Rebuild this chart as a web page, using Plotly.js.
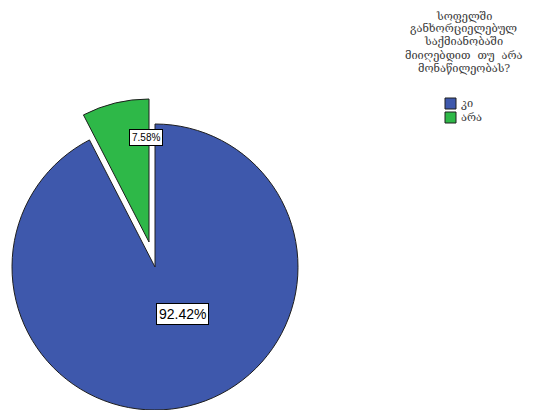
<!DOCTYPE html>
<html><head><meta charset="utf-8">
<script src="https://cdn.plot.ly/plotly-3.0.1.min.js"></script>
<style>html,body{margin:0;padding:0;background:#fff}</style>
</head><body><div id="chart" style="width:536px;height:410px"></div>
<script>
const categories = ["კი", "არა"];
const values = [92.42, 7.58];
const colors = ["#3E58AC", "#2EB848"];
const legendTitleLines = ["სოფელში", "განხორციელებულ", "საქმიანობაში", "მიიღებდით  თუ  არა", "მონაწილეობას?"];

const W = 536, H = 410;
const R = 143;
const px = (x) => x / W;
const py = (y) => 1 - y / H;
const dom = (cx, cy) => ({x: [px(cx - R), px(cx + R)], y: [Math.max(0, py(cy + R)), py(cy - R)]});

const base = {
  type: 'pie', labels: categories, values: values, sort: false,
  direction: 'clockwise', rotation: 0, textinfo: 'none', hoverinfo: 'label+percent',
  showlegend: false
};
const t1 = Object.assign({}, base, {
  domain: dom(155, 267),
  marker: {colors: [colors[0], 'rgba(0,0,0,0)'], line: {color: '#1e1e1e', width: [1, 0]}}
});
const t2 = Object.assign({}, base, {
  domain: dom(149, 242),
  marker: {colors: ['rgba(0,0,0,0)', colors[1]], line: {color: '#1e1e1e', width: [0, 1]}}
});

const total = values.reduce((a, b) => a + b, 0);
const pct = values.map(v => (v / total * 100).toFixed(2) + '%');

const titleFont = {family: 'DejaVu Serif, DejaVu Sans', size: 11, color: '#3a3a3a'};
const annotations = [
  {x: px(156), y: py(325), xref: 'paper', yref: 'paper', text: pct[0], showarrow: false,
   font: {family: 'Arial, Liberation Sans', size: 14, color: '#000'}, bgcolor: '#fff',
   bordercolor: '#000', borderwidth: 1, borderpad: 2},
  {x: px(129), y: py(137), xref: 'paper', yref: 'paper', text: pct[1], showarrow: false,
   font: {family: 'Arial, Liberation Sans', size: 10, color: '#000'}, bgcolor: '#fff',
   bordercolor: '#000', borderwidth: 1, borderpad: 2}
];
legendTitleLines.forEach((line, i) => {
  annotations.push({x: px(464), y: py(16 + i * 13), xref: 'paper', yref: 'paper', xanchor: 'center', yanchor: 'middle',
    text: line.replace(/  /g, '&nbsp;&nbsp;'), showarrow: false, font: titleFont, borderpad: 0});
});
const shapes = [];
categories.forEach((c, i) => {
  const y0 = 98 + i * 14;
  shapes.push({type: 'rect', xref: 'paper', yref: 'paper', x0: px(445), x1: px(456), y0: py(y0), y1: py(y0 + 11),
    fillcolor: colors[i], line: {color: '#1e1e1e', width: 1}});
  annotations.push({x: px(460), y: py(y0 + 5.5), xref: 'paper', yref: 'paper', xanchor: 'left', yanchor: 'middle',
    text: c, showarrow: false, font: titleFont, borderpad: 0});
});

Plotly.newPlot('chart', [t1, t2], {
  width: W, height: H, margin: {l: 0, r: 0, t: 0, b: 0},
  paper_bgcolor: '#fff', plot_bgcolor: '#fff',
  annotations: annotations, shapes: shapes
}, {displayModeBar: false, staticPlot: true});
</script></body></html>
